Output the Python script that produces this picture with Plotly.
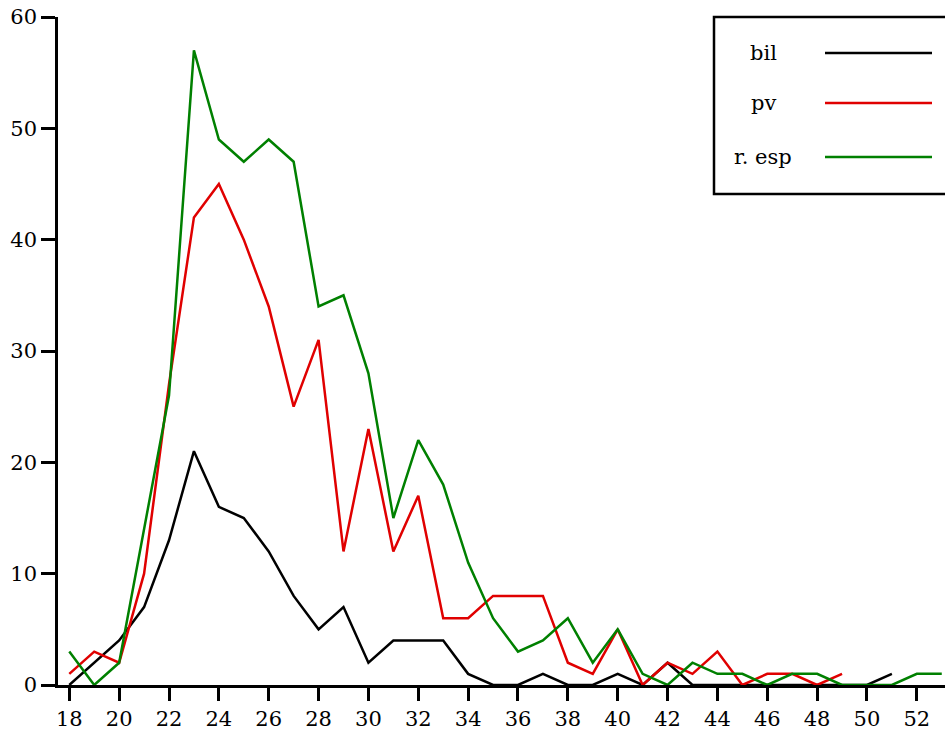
import plotly.graph_objects as go

weeks = list(range(18, 54))
bil = [0, 2, 4, 7, 13, 21, 16, 15, 12, 8, 5, 7, 2, 4, 4, 4, 1, 0, 0, 1, 0, 0, 1, 0, 2, 0,
       0, 0, 0, 0, 0, 0, 0, 1]
pv = [1, 3, 2, 10, 27, 42, 45, 40, 34, 25, 31, 12, 23, 12, 17, 6, 6, 8, 8, 8, 2, 1, 5, 0,
      2, 1, 3, 0, 1, 1, 0, 1]
resp = [3, 0, 2, 14, 26, 57, 49, 47, 49, 47, 34, 35, 28, 15, 22, 18, 11, 6, 3, 4, 6, 2, 5,
        1, 0, 2, 1, 1, 0, 1, 1, 0, 0, 0, 1, 1]

names = ["bil", "pv", "r. esp"]
colors = ["#000000", "#e00000", "#008000"]
series = [bil, pv, resp]

x_ticks = list(range(18, 54, 2))
y_ticks = [0, 10, 20, 30, 40, 50, 60]

FONT = "DejaVu Serif, serif"

fig = go.Figure()
for name, vals, col in zip(names, series, colors):
    fig.add_trace(go.Scatter(x=weeks[:len(vals)], y=vals, mode="lines", name=name,
                             line=dict(color=col, width=2.5), showlegend=False))

# custom legend: text left, line sample right
W, H = 945, 734
ml, mr, mt, mb = 58, 0, 17, 49
pw, ph = W - ml - mr, H - mt - mb

def px(x):
    return (x - ml) / pw

def py(y):
    return (H - mb - y) / ph

shapes = [dict(type="rect", xref="paper", yref="paper",
               x0=px(714), x1=px(947), y0=py(194), y1=py(17),
               line=dict(color="black", width=2.5), fillcolor="white", layer="above")]
annotations = []
rows_y = [53, 103, 157]
for name, col, yy in zip(names, colors, rows_y):
    shapes.append(dict(type="line", xref="paper", yref="paper",
                       x0=px(825), x1=px(932), y0=py(yy), y1=py(yy),
                       line=dict(color=col, width=2.5), layer="above"))
    annotations.append(dict(xref="paper", yref="paper", x=px(763), y=py(yy),
                            text=name, showarrow=False, xanchor="center", yanchor="middle",
                            font=dict(family=FONT, size=21, color="black")))

fig.update_layout(
    width=W, height=H,
    margin=dict(l=ml, r=mr, t=mt, b=mb, autoexpand=False),
    paper_bgcolor="white", plot_bgcolor="white",
    font=dict(family=FONT, size=21, color="black"),
    shapes=shapes, annotations=annotations,
    xaxis=dict(range=[17.547, 53.13], tickvals=x_ticks, ticks="outside", ticklen=13,
               tickwidth=2.5, tickcolor="black", showline=True, linecolor="black",
               linewidth=2.5, showgrid=False, zeroline=False, automargin=False,
               tickfont=dict(family=FONT, size=21)),
    yaxis=dict(range=[0, 60], tickvals=y_ticks, ticks="outside", ticklen=14,
               tickwidth=2.5, tickcolor="black", showline=True, linecolor="black",
               linewidth=2.5, showgrid=False, zeroline=False, automargin=False,
               tickfont=dict(family=FONT, size=21)),
)

fig.write_html("out.html")
